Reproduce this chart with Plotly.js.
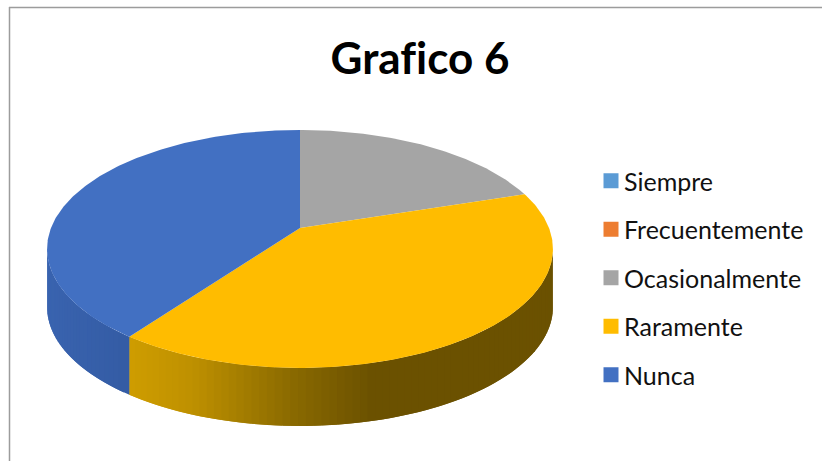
<!DOCTYPE html>
<html>
<head>
<meta charset="utf-8">
<script src="https://cdn.plot.ly/plotly-3.0.1.min.js"></script>
<style>html,body{margin:0;padding:0;background:#fff;overflow:hidden}#chart{width:822px;height:461px}
text{font-variant-ligatures:none !important;font-feature-settings:"liga" 0 !important}
g.legendsymbols{transform:translate(7px,0)}</style>
</head>
<body>
<div id="chart"></div>
<script>
// Chart data
const chartTitle = 'Grafico 6';
const categories = ['Siempre', 'Frecuentemente', 'Ocasionalmente', 'Raramente', 'Nunca'];
const values = [0, 0, 20, 40, 40];
const colors = ['#5B9BD5', '#ED7D31', '#A5A5A5', '#FFBC00', '#4270C2'];

// Side shading per category: [screen offset from pie centre, r, g, b]
const wallShades = [
  [[-260, 91, 155, 213]],
  [[-260, 237, 125, 49]],
  [[-260, 165, 165, 165]],
  [[-170, 208, 158, 0], [-100, 190, 144, 0], [0, 138, 106, 0], [40, 122, 93, 0], [80, 107, 81, 0], [260, 107, 81, 0]],
  [[-260, 58, 100, 176], [-170, 52, 92, 165]]
];

// Projection of the tilted disc (axis units are screen pixels from the pie centre)
const persp = 0.176, scaleX = 249, scaleY = 115.3, depth = 58;
function project(theta, drop) {
  const u = Math.sin(theta), v = Math.cos(theta), s = 1 + persp * v;
  return [scaleX * u / s, scaleY * v / s - drop];
}
function shadeAt(stops, x) {
  if (x <= stops[0][0] || stops.length === 1) return stops[0].slice(1);
  for (let i = 1; i < stops.length; i++) {
    if (x <= stops[i][0]) {
      const t = (x - stops[i - 1][0]) / (stops[i][0] - stops[i - 1][0]);
      return [1, 2, 3].map(c => stops[i - 1][c] + t * (stops[i][c] - stops[i - 1][c]));
    }
  }
  return stops[stops.length - 1].slice(1);
}

const total = values.reduce((a, b) => a + b, 0);
const frontStart = Math.PI / 2 + Math.asin(persp);
const frontEnd = 2 * Math.PI - frontStart;
const step = 2 * Math.PI / 240;
const walls = [], tops = [];
let cum = 0;
categories.forEach((name, i) => {
  const a0 = cum / total * 2 * Math.PI;
  cum += values[i];
  const a1 = cum / total * 2 * Math.PI;
  if (values[i] <= 0) return;
  // top face
  const xs = [0], ys = [0];
  const n = Math.ceil((a1 - a0) / step * 2);
  for (let j = 0; j <= n; j++) {
    const p = project(a0 + (a1 - a0) * j / n, 0);
    xs.push(p[0]); ys.push(p[1]);
  }
  xs.push(0); ys.push(0);
  tops.push({type: 'scatter', mode: 'lines', x: xs, y: ys, fill: 'toself', fillcolor: colors[i],
    line: {width: 0, color: colors[i]}, showlegend: false, hoverinfo: 'skip', name});
  // side wall: each strip overlaps the next so no seams show
  const w0 = Math.max(a0, frontStart), w1 = Math.min(a1, frontEnd);
  if (w1 > w0) {
    const m = Math.ceil((w1 - w0) / step);
    for (let j = m - 1; j >= 0; j--) {
      const t0 = w0 + (w1 - w0) * j / m;
      const t1 = Math.min(w1, w0 + (w1 - w0) * (j + 2) / m);
      const tc = w0 + (w1 - w0) * (j + 0.5) / m;
      const p0 = project(t0, 0), pm = project(tc, 0), p1 = project(t1, 0), q1 = project(t1, depth), qm = project(tc, depth), q0 = project(t0, depth);
      const c = shadeAt(wallShades[i], pm[0]).map(Math.round);
      const col = 'rgb(' + c.join(',') + ')';
      walls.push({type: 'scatter', mode: 'lines',
        x: [p0[0], pm[0], p1[0], q1[0], qm[0], q0[0], p0[0]], y: [p0[1], pm[1], p1[1], q1[1], qm[1], q0[1], p0[1]],
        fill: 'toself', fillcolor: col, line: {width: 0, color: col},
        showlegend: false, hoverinfo: 'skip'});
    }
  }
});
const legendTraces = categories.map((name, i) => ({
  type: 'scatter', mode: 'markers', x: [null], y: [null], name,
  legendgroup: name, marker: {symbol: 'square', size: 15, color: colors[i]}
}));

const layout = {
  width: 822, height: 461,
  margin: {l: 0, r: 0, t: 0, b: 0},
  paper_bgcolor: '#fff', plot_bgcolor: '#fff',
  title: {text: '<b>' + chartTitle + '</b>', font: {family: 'Lato, sans-serif', size: 44, color: '#000'},
    x: 420 / 822, xanchor: 'center', y: 1 - 59 / 461, yanchor: 'middle'},
  xaxis: {range: [-300, 522], visible: false, fixedrange: true},
  yaxis: {range: [-233, 228], visible: false, fixedrange: true},
  showlegend: true,
  legend: {x: 591 / 822, xanchor: 'left', y: 1 - 158 / 461, yanchor: 'top', tracegroupgap: 13, indentation: -7,
    font: {family: 'Lato, sans-serif', size: 25, color: '#111'}, bgcolor: 'rgba(0,0,0,0)'},
  shapes: [
    {type: 'line', xref: 'paper', yref: 'paper', x0: 9.5 / 822, x1: 9.5 / 822, y0: 0, y1: 1 - 7 / 461, line: {color: '#9c9c9c', width: 1.5}},
    {type: 'line', xref: 'paper', yref: 'paper', x0: 9 / 822, x1: 1, y0: 1 - 7.5 / 461, y1: 1 - 7.5 / 461, line: {color: '#9c9c9c', width: 1.5}}
  ]
};
Plotly.newPlot('chart', walls.concat(tops, legendTraces), layout, {displayModeBar: false, staticPlot: true});
</script>
</body>
</html>
